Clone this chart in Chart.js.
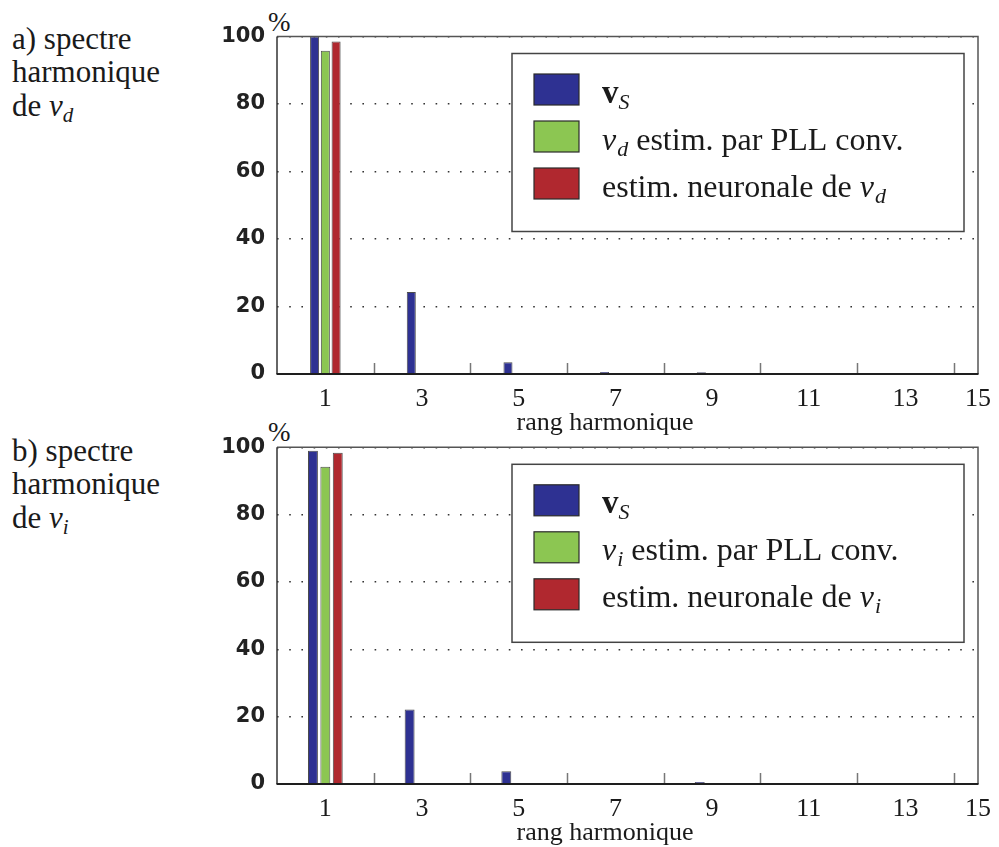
<!DOCTYPE html>
<html><head><meta charset="utf-8">
<script src="https://cdn.jsdelivr.net/npm/chart.js@4.4.1/dist/chart.umd.min.js"></script>
<style>
html,body{margin:0;padding:0;background:#fff;}
body{width:999px;height:847px;position:relative;overflow:hidden;font-family:"Liberation Serif",serif;color:#1a1a1a;}
canvas{position:absolute;left:0;}
.note{position:absolute;left:12px;font-size:31px;line-height:33.3px;white-space:nowrap;}
.pct{position:absolute;left:268px;font-size:27px;line-height:27px;}
.m{font-style:italic;}
.sub{font-size:21px;font-style:italic;position:relative;top:6px;}
</style></head><body>
<div class="note" style="top:22px">a) spectre<br>harmonique<br>de <span class="m">v</span><span class="sub">d</span></div>
<div class="note" style="top:434px">b) spectre<br>harmonique<br>de <span class="m">v</span><span class="sub">i</span></div>
<div class="pct" style="top:9px">%</div>
<div class="pct" style="top:419px">%</div>
<canvas id="c1" width="999" height="440" style="top:0px"></canvas>
<canvas id="c2" width="999" height="437" style="top:410px"></canvas>
<script>
// ---- data ----
const harmonics = [1,2,3,4,5,6,7,8,9,10,11,12,13,14];
// panel a) spectre harmonique de v_d
const vS_a   = [100, 0, 24.3, 0, 3.5, 0, 0.6, 0, 0.5, 0, 0.3, 0, 0.1, 0];
const pll_a  = [95.8, 0, 0.1, 0, 0.1, 0, 0.1, 0, 0.1, 0, 0.1, 0, 0.1, 0];
const neur_a = [98.5, 0, 0.2, 0, 0.1, 0, 0.1, 0, 0.1, 0, 0.1, 0, 0.1, 0];
// panel b) spectre harmonique de v_i
const vS_b   = [99.0, 0, 22.1, 0, 3.8, 0, 0.1, 0, 0.6, 0, 0.3, 0, 0.1, 0];
const pll_b  = [94.2, 0, 0.1, 0, 0.1, 0, 0.1, 0, 0.1, 0, 0.1, 0, 0.1, 0];
const neur_b = [98.4, 0, 0.1, 0, 0.1, 0, 0.1, 0, 0.1, 0, 0.1, 0, 0.1, 0];

const yTicks = [0, 20, 40, 60, 80, 100];
const xTickValues = [1, 3, 5, 7, 9, 11, 13, 14.5];
const xTickLabels = ['1','3','5','7','9','11','13','15'];
const minorTicks = [2, 4, 6, 8, 10, 12, 14];
const xAxisTitle = 'rang harmonique';
const seriesColors = ['#2e3192', '#8cc652', '#b0282f'];
const seriesNamesA = ['vS', 'vd estim. par PLL conv.', 'estim. neuronale de vd'];
const seriesNamesB = ['vS', 'vi estim. par PLL conv.', 'estim. neuronale de vi'];
// rich legend text: [text, style]  r=roman i=italic b=bold s=italic subscript
const legendA = [
  [['v','b'],['S','s']],
  [['v','i'],['d','s'],[' estim. par PLL conv.','r']],
  [['estim. neuronale de ','r'],['v','i'],['d','s']]
];
const legendB = [
  [['v','b'],['S','s']],
  [['v','i'],['i','s'],[' estim. par PLL conv.','r']],
  [['estim. neuronale de ','r'],['v','i'],['i','s']]
];

const SERIF = '"Liberation Serif", "Times New Roman", serif';

function drawRich(ctx, segs, x, y) {
  ctx.textAlign = 'left';
  ctx.textBaseline = 'alphabetic';
  ctx.fillStyle = '#1a1a1a';
  for (const [t, st] of segs) {
    let f = '32px ' + SERIF, dy = 0;
    if (st === 'i') f = 'italic 32px ' + SERIF;
    if (st === 'b') f = 'bold 33px ' + SERIF;
    if (st === 's') { f = 'italic 22px ' + SERIF; dy = 6; }
    ctx.font = f;
    ctx.fillText(t, x, y + dy);
    x += ctx.measureText(t).width + (st === 'i' ? 1 : 0);
  }
}

const framePlugin = {
  id: 'frame',
  afterDatasetsDraw(chart) {
    const ctx = chart.ctx, a = chart.chartArea, xs = chart.scales.x;
    ctx.save();
    // minor inward ticks
    ctx.strokeStyle = '#777'; ctx.lineWidth = 1.5;
    for (const v of minorTicks) {
      const px = Math.round(xs.getPixelForValue(v)) + 0.5;
      ctx.beginPath(); ctx.moveTo(px, a.bottom); ctx.lineTo(px, a.bottom - 11); ctx.stroke();
    }
    // box
    ctx.strokeStyle = '#555'; ctx.lineWidth = 1.5;
    ctx.beginPath();
    ctx.moveTo(a.left, a.top); ctx.lineTo(a.right, a.top); ctx.lineTo(a.right, a.bottom);
    ctx.stroke();
    ctx.strokeStyle = '#333'; ctx.lineWidth = 1.5;
    ctx.beginPath(); ctx.moveTo(a.left, a.top); ctx.lineTo(a.left, a.bottom); ctx.stroke();
    ctx.strokeStyle = '#1e1e1e'; ctx.lineWidth = 2.2;
    ctx.beginPath(); ctx.moveTo(a.left - 0.5, a.bottom); ctx.lineTo(a.right + 0.5, a.bottom); ctx.stroke();
    ctx.restore();
  },
  afterDraw(chart, args, o) {
    const ctx = chart.ctx, a = chart.chartArea;
    ctx.save();
    ctx.font = '26px ' + SERIF;
    ctx.fillStyle = '#1a1a1a';
    ctx.textAlign = 'center';
    ctx.textBaseline = 'alphabetic';
    ctx.fillText(xAxisTitle, a.left + o.titleDx, a.bottom + o.titleDy);
    ctx.restore();
  }
};

const boxLegend = {
  id: 'boxLegend',
  afterDraw(chart, args, o) {
    const ctx = chart.ctx, a = chart.chartArea;
    const x0 = a.left + o.dx, y0 = a.top + o.dy;
    ctx.save();
    ctx.fillStyle = '#fff';
    ctx.fillRect(x0, y0, o.w, o.h);
    ctx.strokeStyle = '#444'; ctx.lineWidth = 1.5;
    ctx.strokeRect(x0, y0, o.w, o.h);
    chart.data.datasets.forEach((ds, i) => {
      const sy = y0 + o.sy + i * o.step;
      ctx.fillStyle = ds.backgroundColor;
      ctx.fillRect(x0 + o.sx, sy, o.sw, o.sh);
      ctx.strokeStyle = '#2a2a2a'; ctx.lineWidth = 1.2;
      ctx.strokeRect(x0 + o.sx, sy, o.sw, o.sh);
      drawRich(ctx, o.items[i], x0 + o.tx, sy + o.sh / 2 + 13);
    });
    ctx.restore();
  }
};

function makeChart(id, h, plotTop, vs, pll, neur, names, legendItems, catPct, barPct) {
  const mk = (arr) => harmonics.map((hh, i) => ({x: hh, y: arr[i]}));
  const sets = [vs, pll, neur].map((arr, i) => ({
    label: names[i],
    data: mk(arr),
    backgroundColor: seriesColors[i],
    borderColor: 'rgba(45,45,45,0.85)',
    borderWidth: 1,
    categoryPercentage: catPct,
    barPercentage: barPct
  }));
  return new Chart(document.getElementById(id), {
    type: 'bar',
    data: { datasets: sets },
    options: {
      responsive: false,
      animation: false,
      devicePixelRatio: 1,
      layout: { padding: { left: 0, right: 21, top: plotTop, bottom: 0 } },
      plugins: {
        legend: { display: false },
        tooltip: { enabled: false },
        frame: { titleDx: 328, titleDy: 56 },
        boxLegend: { dx: 235, dy: 17, w: 452, h: 178, sx: 22, sy: 20.5, sw: 45, sh: 31, step: 47, tx: 90, items: legendItems }
      },
      scales: {
        x: {
          type: 'linear', min: 0, max: 14.5, offset: false,
          grid: { display: false, offset: false },
          border: { display: false },
          afterBuildTicks: s => { s.ticks = xTickValues.map(v => ({ value: v })); },
          ticks: {
            autoSkip: false, maxRotation: 0, padding: 2, color: '#1a1a1a',
            font: { family: SERIF, size: 26 },
            callback: (v, i) => xTickLabels[i]
          },
          afterFit: s => { s.height = h - 374; }
        },
        y: {
          min: 0, max: 100,
          afterBuildTicks: s => { s.ticks = yTicks.map(v => ({ value: v })); },
          grid: { color: '#333', lineWidth: 1.6, drawTicks: false },
          border: { display: false, dash: [1.6, 10.6] },
          ticks: { padding: 12, color: '#222', font: { family: '"DejaVu Sans"', weight: 'bold', size: 21 } },
          afterFit: s => { s.width = 277; }
        }
      }
    },
    plugins: [framePlugin, boxLegend]
  });
}

makeChart('c1', 440, 36.5, vS_a, pll_a, neur_a, seriesNamesA, legendA, 0.667, 0.84);
makeChart('c2', 437, 37.3, vS_b, pll_b, neur_b, seriesNamesB, legendB, 0.77, 0.8);
</script>
</body></html>
